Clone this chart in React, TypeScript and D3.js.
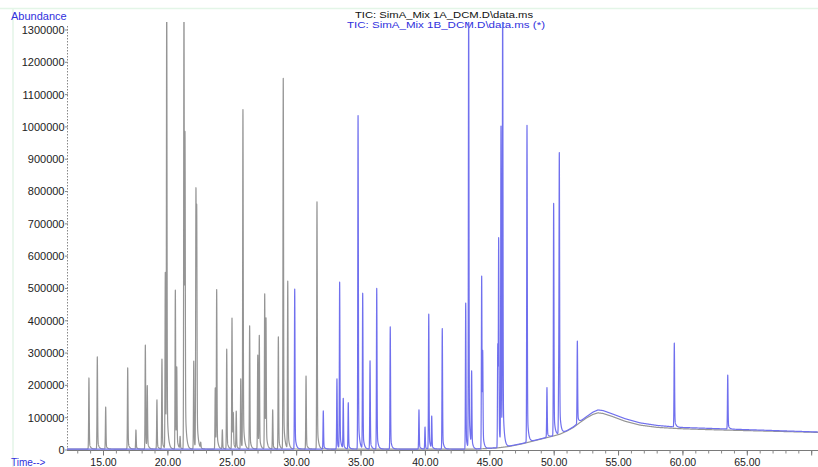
import React from 'react';
import * as d3 from 'd3';

const W = 818;
const H = 467;

// Sample 1A (gray) peaks: retention time (min) and apex abundance
const grayTimes = [13.87, 14.52, 15.17, 16.88, 17.52, 18.25, 18.4, 19.15, 19.54, 19.8, 19.91, 20.58, 20.69, 20.95, 21.25, 21.33, 22.01, 22.18, 22.24, 22.55, 23.68, 23.79, 24.23, 24.57, 24.98, 25.08, 25.31, 25.66, 25.83, 26.35, 26.98, 27.1, 27.52, 27.62, 28.14, 28.58, 28.96, 29.31, 30.73, 31.58];
const grayApex = [223000, 288000, 133000, 254000, 62000, 325000, 192000, 155000, 281000, 548000, 1400000, 495000, 240000, 40000, 1400000, 915000, 275000, 790000, 690000, 20000, 192000, 490000, 62000, 312000, 408000, 100000, 118000, 220000, 1050000, 384000, 294000, 346000, 483000, 390000, 124000, 350000, 1150000, 520000, 229000, 768000];

// Sample 1B (blue) peaks
const blueTimes = [29.85, 32.07, 33.13, 33.34, 33.62, 34.01, 34.77, 35.13, 35.7, 36.22, 37.27, 39.5, 39.97, 40.26, 40.49, 41.31, 43.13, 43.36, 43.59, 44.37, 44.45, 45.62, 45.69, 45.87, 46.0, 47.89, 49.44, 49.96, 50.35, 50.4, 51.8, 59.33, 63.48];
const blueApex = [498000, 121000, 220000, 517000, 157000, 146000, 1035000, 483000, 276000, 500000, 381000, 124000, 71000, 420000, 101000, 376000, 455000, 1400000, 232000, 538000, 281000, 325000, 638000, 990000, 1400000, 1005000, 193000, 763000, 212000, 898000, 337000, 331000, 232000];

// Column-bleed baseline (hump)
const baseTimes = [12.0, 44.0, 45.5, 46.5, 47.5, 48.1, 49.0, 50.0, 50.45, 51.0, 51.5, 52.0, 52.5, 53.0, 53.4, 53.8, 54.5, 55.5, 56.67, 58.0, 59.77, 62.0, 64.95, 68.0, 71.0];
const grayBase = [3000, 3000, 6000, 11000, 19000, 25000, 34000, 44000, 49000, 59000, 70000, 85000, 99000, 110000, 115000, 113000, 104000, 89000, 77000, 70000, 66000, 63000, 60000, 57000, 54000];
const blueBase = [3000, 3000, 7000, 12000, 20000, 26000, 35000, 45000, 50000, 60000, 72000, 88000, 103000, 117000, 124000, 122000, 112000, 97000, 84000, 76000, 70000, 67000, 63000, 59000, 55000];

const yTickValues = [0, 100000, 200000, 300000, 400000, 500000, 600000, 700000, 800000, 900000, 1000000, 1100000, 1200000, 1300000];
const xMajorTicks = [15, 20, 25, 30, 35, 40, 45, 50, 55, 60, 65, 70];
const xMajorLabels = ['15.00', '20.00', '25.00', '30.00', '35.00', '40.00', '45.00', '50.00', '55.00', '60.00', '65.00', ''];

const x = d3.scaleLinear().domain([15, 70]).range([103.5, 811.7]);
const y = d3.scaleLinear().domain([0, 1300000]).range([450, 30]);

const SIGMA = 0.022;
const TAU = 0.09;

function buildTrace(times: number[], apex: number[], bT: number[], bV: number[]) {
  const base = d3.scaleLinear().domain(bT).range(bV).clamp(true);
  const peaks = times.map((t, i) => ({ t, h: apex[i] - base(t) }));
  const t0 = x.invert(67);
  const t1 = x.invert(W);
  const samples: number[] = [];
  for (let t = t0; t <= t1; t += 0.004) samples.push(t);
  times.forEach((t) => samples.push(t));
  samples.sort((a, b) => a - b);
  return samples.map((t) => {
    let v = base(t);
    for (const p of peaks) {
      const d = t - p.t;
      if (d < -0.2 || d > 0.8) continue;
      const g = Math.exp(-0.5 * (d / SIGMA) * (d / SIGMA));
      v += d < 0 ? p.h * g : p.h * (0.88 * g + 0.12 * Math.exp(-d / TAU));
    }
    return [t, v] as [number, number];
  });
}

const line = d3
  .line<[number, number]>()
  .x((d) => x(d[0]))
  .y((d) => y(d[1]));

const FONT = '"Liberation Sans", Arial, Helvetica, sans-serif';
const BLUE_TXT = '#3030dd';

export default function App() {
  const grayTrace = buildTrace(grayTimes, grayApex, baseTimes, grayBase);
  const blueTrace = buildTrace(blueTimes, blueApex, baseTimes, blueBase);
  const minorTicks = d3.range(13, 71);
  return (
    <svg
      width={W}
      height={H}
      viewBox={`0 0 ${W} ${H}`}
      style={{ position: 'absolute', left: 0, top: 0, background: '#fff' }}
      fontFamily={FONT}
    >
      <defs>
        <clipPath id="plotClip">
          <rect x={67} y={22} width={W - 67} height={432} />
        </clipPath>
      </defs>
      <rect x={0} y={0} width={W} height={H} fill="#fff" />
      {/* faint frame */}
      <line x1={0} x2={W} y1={8.5} y2={8.5} stroke="#e3f5e7" strokeWidth={1.5} />
      <line x1={13} x2={13} y1={8} y2={H} stroke="#e3f5e7" strokeWidth={1.5} />

      {/* Titles */}
      <text x={11} y={20} fontSize={11} fill={BLUE_TXT}>Abundance</text>
      <text x={355} y={18} fontSize={9} fill="#111" textLength={178} lengthAdjust="spacingAndGlyphs">
        TIC: SimA_Mix 1A_DCM.D\data.ms
      </text>
      <text x={347} y={28} fontSize={9} fill={BLUE_TXT} textLength={198} lengthAdjust="spacingAndGlyphs">
        TIC: SimA_Mix 1B_DCM.D\data.ms (*)
      </text>

      {/* Y axis */}
      <line x1={67.5} x2={67.5} y1={26} y2={450} stroke="#888" strokeWidth={1} strokeDasharray="1.5,1.5" />
      {yTickValues.map((v) => (
        <g key={v}>
          <line x1={65} x2={68} y1={y(v)} y2={y(v)} stroke="#888" />
          <text x={64.5} y={y(v)} dy="0.36em" fontSize={11} textAnchor="end" fill="#222">
            {v}
          </text>
        </g>
      ))}

      {/* X axis */}
      <line x1={67} x2={W} y1={450.5} y2={450.5} stroke="#7a7a7a" strokeWidth={1} />
      {minorTicks.map((t) => (
        <line key={'m' + t} x1={x(t)} x2={x(t)} y1={450.5} y2={453.5} stroke="#888" />
      ))}
      {xMajorTicks.map((t, i) => (
        <g key={'M' + t}>
          <line x1={x(t)} x2={x(t)} y1={450.5} y2={455.5} stroke="#777" />
          {xMajorLabels[i] && (
            <text x={x(t)} y={466} fontSize={10.5} textAnchor="middle" fill="#222">
              {xMajorLabels[i]}
            </text>
          )}
        </g>
      ))}
      <text x={11} y={466} fontSize={10} fill={BLUE_TXT}>Time--&gt;</text>

      {/* Traces */}
      <g clipPath="url(#plotClip)">
        <path d={line(grayTrace) || ''} fill="none" stroke="#959595" strokeWidth={1.2} strokeLinejoin="round" />
        <path d={line(blueTrace) || ''} fill="none" stroke="#7070ee" strokeWidth={1.2} strokeLinejoin="round" />
      </g>
    </svg>
  );
}
